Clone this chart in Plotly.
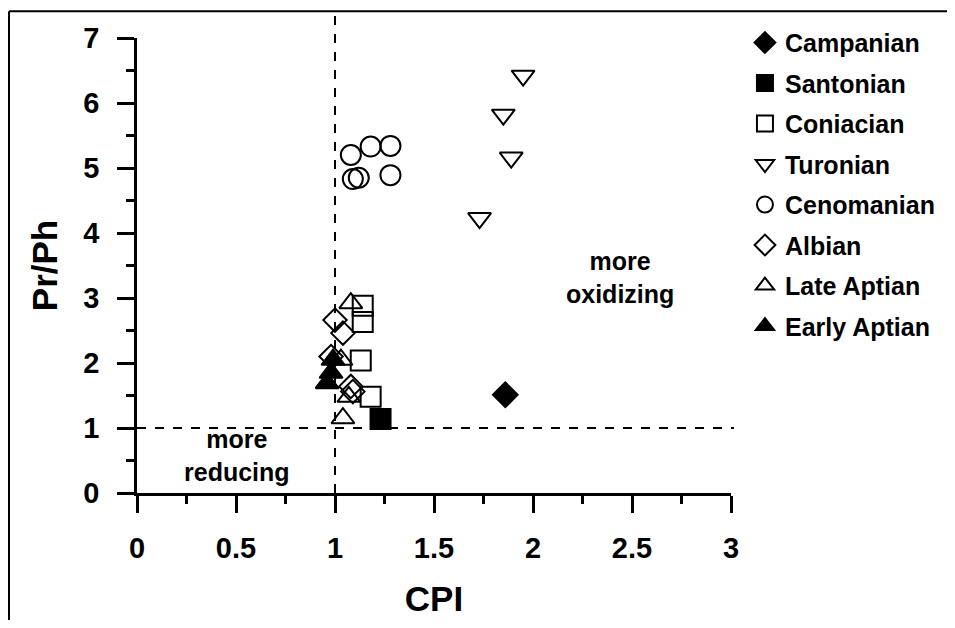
import plotly.graph_objects as go

FONT = "Liberation Sans, Arial, sans-serif"

campanian_x = [1.86]
campanian_y = [1.51]
santonian_x = [1.23]
santonian_y = [1.14]
coniacian_x = [1.14, 1.14, 1.13, 1.18]
coniacian_y = [2.88, 2.63, 2.04, 1.48]
turonian_x = [1.95, 1.85, 1.89, 1.73]
turonian_y = [6.42, 5.82, 5.16, 4.23]
cenomanian_x = [1.08, 1.18, 1.28, 1.09, 1.12, 1.28]
cenomanian_y = [5.20, 5.33, 5.34, 4.83, 4.85, 4.89]
albian_x = [1.00, 1.04, 0.98, 1.08, 1.09]
albian_y = [2.66, 2.46, 2.10, 1.64, 1.56]
late_aptian_x = [1.08, 1.03, 1.07, 1.04]
late_aptian_y = [2.92, 2.05, 1.48, 1.15]
early_aptian_x = [0.99, 0.96, 0.98]
early_aptian_y = [2.05, 1.69, 1.85]

series = [
    ("Campanian", campanian_x, campanian_y, "diamond", 19),
    ("Santonian", santonian_x, santonian_y, "square", 20),
    ("Coniacian", coniacian_x, coniacian_y, "square-open", 20),
    ("Turonian", turonian_x, turonian_y, "triangle-down-open", 20),
    ("Cenomanian", cenomanian_x, cenomanian_y, "circle-open", 20),
    ("Albian", albian_x, albian_y, "diamond-open", 18),
    ("Late Aptian", late_aptian_x, late_aptian_y, "triangle-up-open", 20),
    ("Early Aptian", early_aptian_x, early_aptian_y, "triangle-up", 20),
]

fig = go.Figure()
for name, xs, ys, sym, sz in series:
    fig.add_trace(go.Scatter(
        x=xs, y=ys, mode="markers", name=name, legendgroup=name,
        marker=dict(symbol=sym, size=sz, color="black",
                    line=dict(color="black", width=2)),
        cliponaxis=False,
    ))

# dashed reference lines
fig.add_shape(type="line", xref="x", yref="paper", x0=1, x1=1, y0=0, y1=1.05,
              line=dict(color="black", width=2, dash="dash"))
fig.add_shape(type="line", xref="paper", yref="y", x0=0, x1=1.005, y0=1, y1=1,
              line=dict(color="black", width=2, dash="dash"))

# frame
fig.add_shape(type="line", xref="paper", yref="paper", x0=-0.2155, x1=1.4, y0=1.059, y1=1.059,
              line=dict(color="black", width=2))
fig.add_shape(type="line", xref="paper", yref="paper", x0=-0.2155, x1=-0.2155, y0=1.059, y1=-0.35,
              line=dict(color="black", width=2))

fig.add_annotation(x=2.44, y=3.31, xref="x", yref="y", text="more<br>oxidizing",
                   showarrow=False, font=dict(family=FONT, size=25, color="black", weight="bold"))
fig.add_annotation(x=0.505, y=0.57, xref="x", yref="y", text="more<br>reducing",
                   showarrow=False, font=dict(family=FONT, size=25, color="black", weight="bold"))

axis_common = dict(
    showgrid=False, zeroline=False, showline=True, linecolor="black", linewidth=2.5,
    ticks="outside", ticklen=17, tickwidth=2.5, tickcolor="black", automargin=False,
    tickfont=dict(family=FONT, size=29, color="black", weight="bold"),
)
fig.update_xaxes(range=[0, 3], tickvals=[0, 0.5, 1, 1.5, 2, 2.5, 3],
                 ticktext=["0", "0.5", "1", "1.5", "2", "2.5", "3"],
                 minor=dict(ticks="outside", ticklen=8, tickwidth=2.5, tickcolor="black", dtick=0.25),
                 ticklabelstandoff=10,
                 title=dict(text="CPI", font=dict(family=FONT, size=35, color="black", weight="bold"), standoff=24),
                 **axis_common)
fig.update_yaxes(range=[0, 7], tickvals=[0, 1, 2, 3, 4, 5, 6, 7],
                 minor=dict(ticks="outside", ticklen=8, tickwidth=2.5, tickcolor="black", dtick=0.5),
                 ticklabelstandoff=12,
                 title=dict(text="Pr/Ph", font=dict(family=FONT, size=35, color="black", weight="bold"), standoff=16),
                 **axis_common)

fig.update_layout(
    width=947, height=612,
    margin=dict(l=129, r=224, t=30, b=127),
    paper_bgcolor="white", plot_bgcolor="white",
    showlegend=True,
    legend=dict(x=1.0235, y=1.04, xanchor="left", yanchor="top",
                font=dict(family=FONT, size=25, color="black", weight="bold"),
                bgcolor="rgba(0,0,0,0)", tracegroupgap=5, maxheight=600),
)

fig.write_html("out.html")
